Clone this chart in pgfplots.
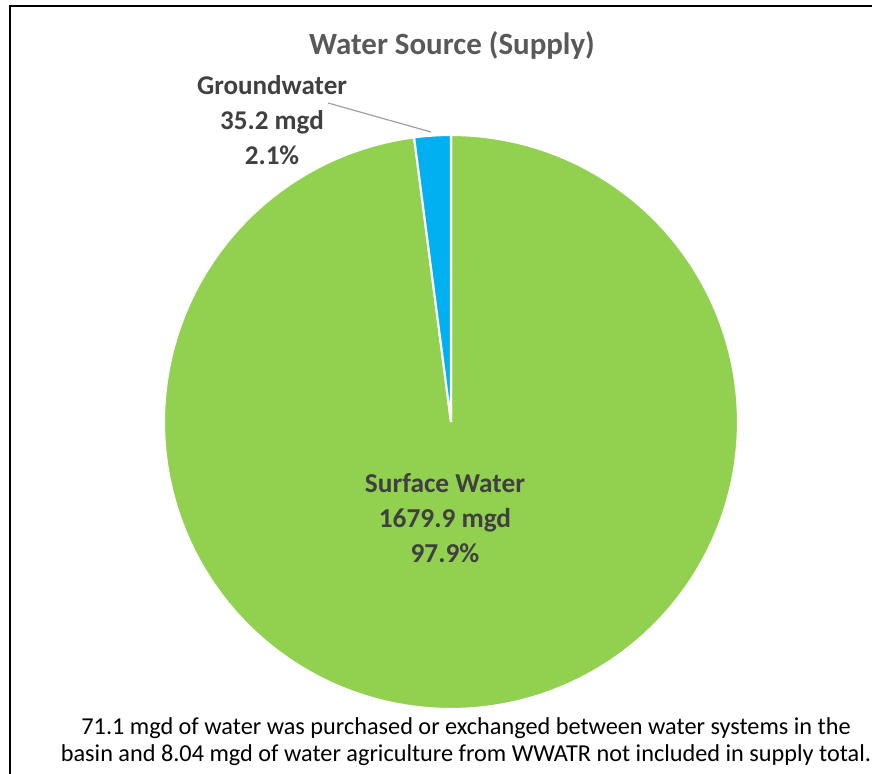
\documentclass[border=0pt]{standalone}
\usepackage{pgfplots}
\usepackage{pgfplotstable}
\pgfplotsset{compat=1.18}
\usepackage{fontspec}
\setmainfont{Carlito}
\definecolor{pieGreen}{HTML}{92D050}
\definecolor{pieBlue}{HTML}{00B0F0}
\definecolor{lblGray}{HTML}{595959}
\definecolor{lblDark}{HTML}{404040}
\pgfplotstableread{
name value
Surface 1679.9
Ground 35.2
}\piedata
\pgfplotstablegetelem{0}{value}\of\piedata \let\vs\pgfplotsretval
\pgfplotstablegetelem{1}{value}\of\piedata \let\vg\pgfplotsretval
\pgfmathsetmacro{\frs}{\vs/(\vs+\vg)}
\pgfmathsetmacro{\as}{360*\frs}
\pgfmathsetmacro{\sStart}{90-\as}
\begin{document}
\begin{tikzpicture}
\begin{axis}[
  scale only axis, width=654pt, height=580.5pt,
  xmin=0, xmax=872, ymin=0, ymax=774,
  hide axis, clip=false,
]
\path[use as bounding box] (axis cs:0,0) rectangle (axis cs:872,774);
% surface water
\addplot[fill=pieGreen, draw=white, line width=1.6pt, domain={\sStart}:90, samples=360, variable=\t]
  ({451+287*cos(t)},{352+287*sin(t)}) -- (axis cs:451,352) -- cycle;
% groundwater
\addplot[fill=pieBlue, draw=white, line width=1.6pt, domain=90:{360+\sStart}, samples=20, variable=\t]
  ({451+287*cos(t)},{352+287*sin(t)}) -- (axis cs:451,352) -- cycle;
% leader line
\draw[gray!75, line width=0.9pt] (axis cs:328,671) -- (axis cs:431,642);
% frame
\draw[black, line width=2pt] (axis cs:10,0) -- (axis cs:10,768) -- (axis cs:872,768);
% title
\node[font=\fontsize{23.2}{28}\selectfont\bfseries, text=lblGray] at (axis cs:452,729) {Water Source (Supply)};
\node[font=\fontsize{20.3}{26.3}\selectfont\bfseries, text=lblDark, align=center] at (axis cs:272,654) {Groundwater\\35.2 mgd\\2.1\%};
\node[font=\fontsize{20.5}{26.3}\selectfont\bfseries, text=lblDark, align=center] at (axis cs:445,256) {Surface Water\\1679.9 mgd\\97.9\%};
\node[font=\fontsize{18.2}{20.3}\selectfont, text=black, align=center, anchor=center] at (axis cs:466,32) {71.1 mgd of water was purchased or exchanged between water systems in the\\basin and 8.04 mgd of water agriculture from WWATR not included in supply total.};
\end{axis}
\end{tikzpicture}
\end{document}
